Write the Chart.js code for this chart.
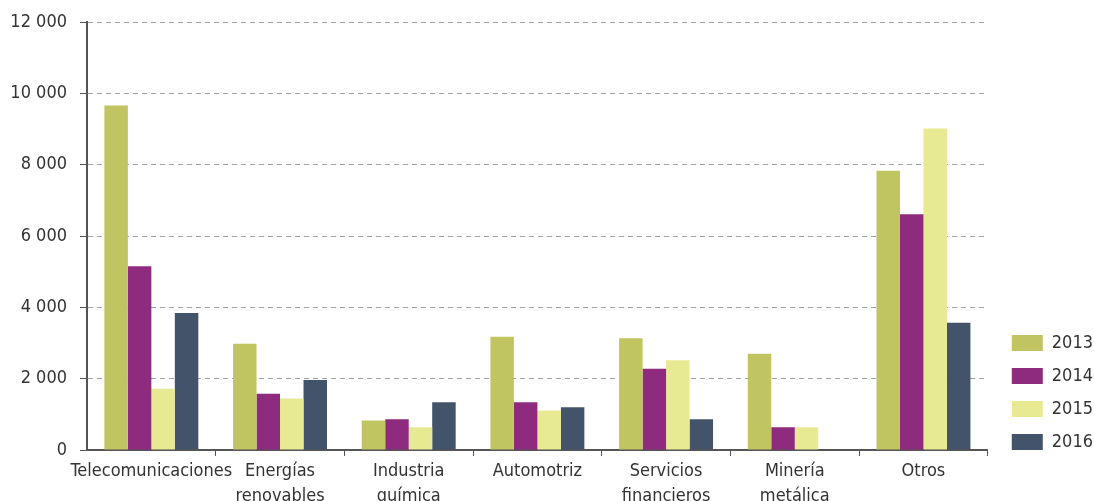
<!DOCTYPE html>
<html>
<head>
<meta charset="utf-8">
<script src="https://cdn.jsdelivr.net/npm/chart.js@4.4.0/dist/chart.umd.min.js"></script>
<style>
  html, body { margin: 0; padding: 0; background: #fff; }
  #wrap { width: 1094px; height: 501px; }
</style>
</head>
<body>
<div id="wrap"><canvas id="grafico"></canvas></div>
<script>
const sectores = [['Telecomunicaciones'], ['Energías', 'renovables'], ['Industria', 'química'], ['Automotriz'], ['Servicios', 'financieros'], ['Minería', 'metálica'], ['Otros']]
const anios = ['2013', '2014', '2015', '2016']
const v2013 = [9660, 2980, 830, 3175, 3130, 2700, 7830]
const v2014 = [5150, 1575, 865, 1340, 2280, 635, 6610]
const v2015 = [1720, 1445, 635, 1110, 2515, 635, 9015]
const v2016 = [3840, 1965, 1340, 1200, 865, 10, 3565]
const colores = ['#c0c562', '#8e2b7e', '#e8ea93', '#43546a']
const yTicks = [0, 2000, 4000, 6000, 8000, 10000, 12000]

const fuente = "'DejaVu Sans Condensed', 'Liberation Sans Narrow', sans-serif"
const series = [v2013, v2014, v2015, v2016]

const data = {
    labels: sectores,
    datasets: anios.map((a, i) => ({
        label: a,
        data: series[i],
        backgroundColor: colores[i],
        borderWidth: 0,
        categoryPercentage: 0.73,
        barPercentage: 1.0,
    })),
}

// mueve la leyenda un poco a la derecha y abajo
const moverLeyenda = {
    id: 'moverLeyenda',
    afterLayout(chart) {
        const l = chart.legend
        l.left += 9; l.right += 9
        l.top += 16; l.bottom += 16
    }
}

const config = {
    type: 'bar',
    data: data,
    options: {
        responsive: true,
        maintainAspectRatio: false,
        animation: false,
        layout: { padding: { top: 3, right: 0, left: 0, bottom: 0 } },
        plugins: {
            tooltip: { enabled: false },
            legend: {
                position: 'right',
                align: 'end',
                fullSize: false,
                labels: {
                    boxWidth: 31,
                    boxHeight: 16,
                    padding: 15,
                    color: '#333',
                    font: { family: fuente, size: 18 },
                },
            },
        },
        scales: {
            x: {
                grid: {
                    drawOnChartArea: false,
                    tickLength: 6,
                    tickColor: c => (c.index === 0 || c.index === sectores.length) ? 'rgba(0,0,0,0)' : '#555',
                },
                border: { color: '#555', width: 2 },
                ticks: {
                    autoSkip: false,
                    maxRotation: 0,
                    padding: 3,
                    color: '#333',
                    font: { family: fuente, size: 18, lineHeight: 1.4 },
                },
                afterFit: s => { s.height = 51 },
            },
            y: {
                min: 0,
                max: 12000,
                afterBuildTicks: s => { s.ticks = yTicks.map(v => ({ value: v })) },
                grid: {
                    color: '#a0a0a0',
                    lineWidth: 1,
                    tickLength: 7,
                    tickColor: '#555',
                },
                border: { color: '#555', width: 2, dash: [5, 4] },
                ticks: {
                    padding: 13,
                    color: '#333',
                    font: { family: fuente, size: 18, lineHeight: 1.0 },
                    callback: v => String(v).replace(/\B(?=(\d{3})+(?!\d))/g, ' '),
                },
                afterFit: s => { s.width = 87 },
            },
        },
    },
    plugins: [moverLeyenda],
}
const grafico = document.getElementById('grafico')
const chart = new Chart(grafico, config)
</script>
</body>
</html>
